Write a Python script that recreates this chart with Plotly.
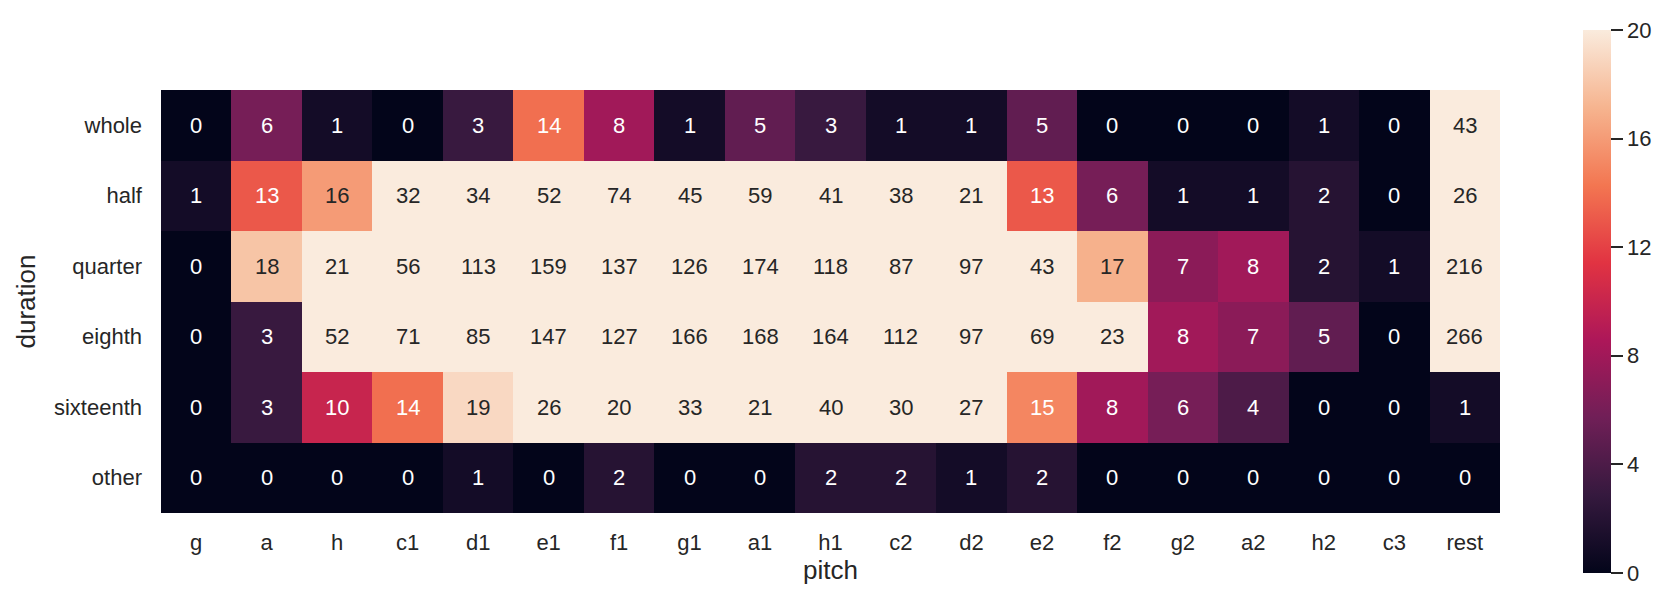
import plotly.graph_objects as go

# note counts per pitch and duration
pitches = ['g', 'a', 'h', 'c1', 'd1', 'e1', 'f1', 'g1', 'a1', 'h1',
           'c2', 'd2', 'e2', 'f2', 'g2', 'a2', 'h2', 'c3', 'rest']
durations = ['whole', 'half', 'quarter', 'eighth', 'sixteenth', 'other']

whole = [0, 6, 1, 0, 3, 14, 8, 1, 5, 3, 1, 1, 5, 0, 0, 0, 1, 0, 43]
half = [1, 13, 16, 32, 34, 52, 74, 45, 59, 41, 38, 21, 13, 6, 1, 1, 2, 0, 26]
quarter = [0, 18, 21, 56, 113, 159, 137, 126, 174, 118, 87, 97, 43, 17, 7, 8, 2, 1, 216]
eighth = [0, 3, 52, 71, 85, 147, 127, 166, 168, 164, 112, 97, 69, 23, 8, 7, 5, 0, 266]
sixteenth = [0, 3, 10, 14, 19, 26, 20, 33, 21, 40, 30, 27, 15, 8, 6, 4, 0, 0, 1]
other = [0, 0, 0, 0, 1, 0, 2, 0, 0, 2, 2, 1, 2, 0, 0, 0, 0, 0, 0]

z = [whole, half, quarter, eighth, sixteenth, other]

# seaborn "rocket" approximated
rocket = [
    [0.0, '#03051a'],
    [0.143, '#35193e'],
    [0.286, '#701f57'],
    [0.429, '#ad1759'],
    [0.571, '#e13342'],
    [0.714, '#f37651'],
    [0.857, '#f6b48f'],
    [1.0, '#faebdd'],
]

FONT = 'Liberation Sans, Arial, sans-serif'
DARK = '#262626'

fig = go.Figure(go.Heatmap(
    z=z, x=pitches, y=durations,
    zmin=0, zmax=20,
    colorscale=rocket,
    hoverongaps=False,
    colorbar=dict(
        thickness=28, len=543, lenmode='pixels',
        x=1.062, xanchor='left', xpad=0,
        y=1.142, yanchor='top', ypad=0,
        outlinewidth=0,
        tickvals=[0, 4, 8, 12, 16, 20],
        ticks='outside', ticklen=12, tickwidth=2, tickcolor=DARK,
        tickfont=dict(family=FONT, size=22, color=DARK),
    ),
))

# cell annotations, white on dark cells and dark on light cells
for row, name in zip(z, durations):
    for p, v in zip(pitches, row):
        fig.add_annotation(
            x=p, y=name, text=str(v), showarrow=False,
            font=dict(family=FONT, size=22, color=DARK if v >= 16 else 'white'),
        )

fig.update_layout(
    width=1660, height=592,
    margin=dict(l=153, r=168, t=82, b=87),
    paper_bgcolor='white', plot_bgcolor='white',
    font=dict(family=FONT, size=22, color=DARK),
    xaxis=dict(
        title=dict(text='pitch', standoff=6),
        showgrid=False, zeroline=False, ticks='',
        ticklabelstandoff=14,
    ),
    yaxis=dict(
        title=dict(text='duration', standoff=10),
        autorange='reversed',
        showgrid=False, zeroline=False, ticks='',
        ticklabelstandoff=18,
    ),
)

fig.write_html('out.html')
